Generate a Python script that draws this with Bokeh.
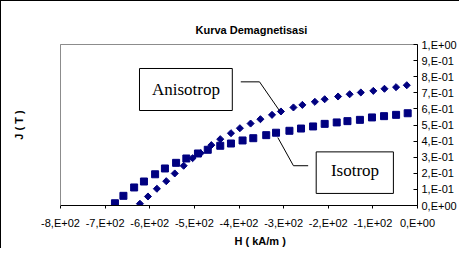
import math
from bokeh.plotting import figure
from bokeh.models import Range1d, FixedTicker, Label, BoxAnnotation, Title, LinearAxis
from bokeh.embed import file_html
from bokeh.resources import INLINE

# ---- data ----
iso_h = [-678, -659, -635, -613, -588, -566, -541, -518, -492, -470, -442, -418, -392, -368,
         -339, -317, -287, -261, -234, -208, -181, -157, -129, -102, -75, -48, -22]
iso_j = [0.014, 0.060, 0.112, 0.149, 0.194, 0.230, 0.265, 0.292, 0.323, 0.346, 0.371, 0.385,
         0.404, 0.418, 0.437, 0.452, 0.464, 0.478, 0.491, 0.507, 0.516, 0.524, 0.532, 0.547,
         0.555, 0.563, 0.573]
aniso_h = [-622, -604, -584, -563, -544, -524, -504, -486, -462, -442, -418, -398, -374, -352,
           -326, -306, -278, -258, -230, -208, -178, -152, -127, -99, -74, -48, -24]
aniso_j = [0.011, 0.056, 0.104, 0.151, 0.199, 0.247, 0.294, 0.325, 0.375, 0.412, 0.449, 0.480,
           0.509, 0.536, 0.563, 0.584, 0.609, 0.625, 0.644, 0.660, 0.677, 0.691, 0.702, 0.712,
           0.725, 0.735, 0.747]

x_ticks = [-800, -700, -600, -500, -400, -300, -200, -100, 0]
x_tick_labels = ["-8,E+02", "-7,E+02", "-6,E+02", "-5,E+02", "-4,E+02", "-3,E+02",
                 "-2,E+02", "-1,E+02", "0,E+00"]
y_ticks = [0.0, 0.1, 0.2, 0.3, 0.4, 0.5, 0.6, 0.7, 0.8, 0.9, 1.0]
y_tick_labels = ["0,E+00", "1,E-01", "2,E-01", "3,E-01", "4,E-01", "5,E-01", "6,E-01",
                 "7,E-01", "8,E-01", "9,E-01", "1,E+00"]

title_text = "Kurva Demagnetisasi"
x_title = "H ( kA/m )"
y_title = "J ( T )"
aniso_name = "Anisotrop"
iso_name = "Isotrop"

NAVY = "#000080"
SANS = "Liberation Sans"
SERIF = "Liberation Serif"

p = figure(frame_width=357, frame_height=161, x_range=Range1d(-800, 0), y_range=Range1d(0, 1),
           y_axis_location="right", output_backend="svg", toolbar_location=None,
           min_border_left=59, min_border_right=10, min_border_top=43, min_border_bottom=10,
           styles={"border-left": "1px solid black", "border-top": "1px solid black"})

p.xgrid.visible = False
p.ygrid.visible = False
p.outline_line_color = "#8c8c8c"
p.outline_line_width = 1
p.background_fill_color = "white"
p.border_fill_color = "white"

xa = p.xaxis[0]
xa.ticker = FixedTicker(ticks=x_ticks)
xa.major_label_overrides = dict(zip(x_ticks, x_tick_labels))
xa.minor_tick_line_color = None
xa.minor_tick_out = 0
xa.minor_tick_in = 0
xa.major_tick_out = 3
xa.major_tick_in = 0
xa.major_label_standoff = 8
xa.axis_line_color = "black"
xa.major_tick_line_color = "black"
xa.major_label_text_font = SANS
xa.major_label_text_font_size = "11px"
xa.major_label_text_color = "black"

ya = p.yaxis[0]
ya.ticker = FixedTicker(ticks=y_ticks)
ya.major_label_overrides = dict(zip(y_ticks, y_tick_labels))
ya.minor_tick_line_color = None
ya.minor_tick_out = 0
ya.minor_tick_in = 0
ya.major_tick_out = 0
ya.major_tick_in = 4
ya.major_label_standoff = 4
ya.axis_line_color = "black"
ya.major_tick_line_color = "black"
ya.major_label_text_font = SANS
ya.major_label_text_font_size = "11px"
ya.major_label_text_color = "black"

# left edge of the plot area, carrying the J axis title
la = LinearAxis(ticker=FixedTicker(ticks=[]), axis_label=y_title, axis_label_standoff=36,
                axis_label_text_font=SANS, axis_label_text_font_size="11px",
                axis_label_text_font_style="bold", axis_label_text_color="black",
                axis_line_color="#8c8c8c", major_tick_out=0, major_tick_in=0,
                minor_tick_out=0, minor_tick_in=0, major_label_standoff=0)
p.add_layout(la, "left")

# series
p.scatter(iso_h, iso_j, marker="square", size=7, color=NAVY)
p.scatter(aniso_h, aniso_j, marker="square", angle=math.pi / 4, size=5, color=NAVY)

# callouts
p.add_layout(BoxAnnotation(left=-623, right=-415, top=0.851, bottom=0.590,
                           fill_color="white", fill_alpha=1.0,
                           line_color="black", line_width=1, line_alpha=1.0))
p.add_layout(BoxAnnotation(left=-227, right=-54, top=0.333, bottom=0.075,
                           fill_color="white", fill_alpha=1.0,
                           line_color="black", line_width=1, line_alpha=1.0))
p.line([-396, -354, -309], [0.768, 0.768, 0.588], color="black", line_width=1)
p.line([-245, -278, -313], [0.247, 0.247, 0.422], color="black", line_width=1)
p.add_layout(Label(x=-519, y=0.722, text=aniso_name, text_font=SERIF, text_font_size="17px",
                   text_align="center", text_baseline="middle", text_color="black"))
p.add_layout(Label(x=-140, y=0.217, text=iso_name, text_font=SERIF, text_font_size="17px",
                   text_align="center", text_baseline="middle", text_color="black"))

# titles
p.title.text = title_text
p.title.align = "left"
p.title.offset = 135
p.title.standoff = 17
p.title.text_font = SANS
p.title.text_font_size = "11px"
p.title.text_font_style = "bold"
p.title.text_color = "black"

p.add_layout(Title(text=x_title, align="left", offset=174, standoff=3, text_font=SANS,
                   text_font_size="11px", text_font_style="bold", text_color="black"), "below")

open("out.html", "w").write(file_html(p, INLINE))
